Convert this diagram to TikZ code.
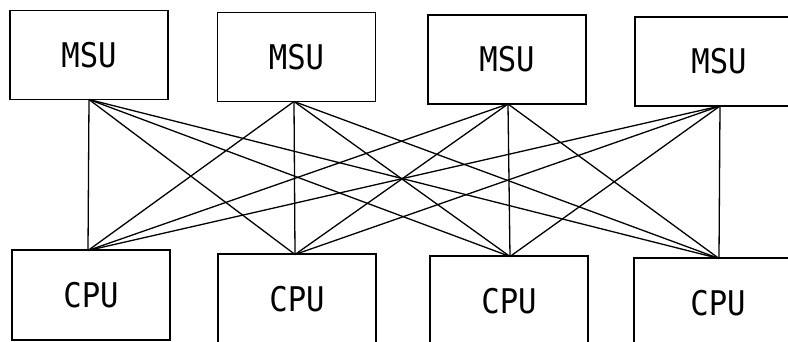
\documentclass[tikz,border=0pt]{standalone}
\usepackage{fontspec}
\newfontfamily\boxfont[FakeStretch=0.9]{DejaVu Sans Mono}
\begin{document}
\begin{tikzpicture}[x=1pt,y=-1pt,
  unit/.style={draw,line width=1.5pt,minimum width=158pt,minimum height=89pt,inner sep=0pt,
    font=\boxfont\fontsize{34}{34}\selectfont},
  link/.style={line width=1.3pt}]
\useasboundingbox (0,0) rectangle (788,342);
\clip (0,0) rectangle (788,342);
\node[unit] (M1) at (89,55) {MSU};
\node[unit] (M2) at (296.5,57) {MSU};
\node[unit] (M3) at (507,59.5) {MSU};
\node[unit] (M4) at (714,61.5) {\hspace{10pt}MSU};
\node[unit,minimum height=90pt] (C1) at (91,295) {CPU};
\node[unit,minimum height=90pt] (C2) at (297,299) {CPU};
\node[unit,minimum height=90pt] (C3) at (509,301) {CPU};
\node[unit,minimum height=90pt] (C4) at (713,303) {\hspace{10pt}CPU};
\coordinate (m1) at (89,99.5);
\coordinate (m2) at (294,101.5);
\coordinate (m3) at (508,104);
\coordinate (m4) at (720,106);
\coordinate (c1) at (88,250.5);
\coordinate (c2) at (295,254.5);
\coordinate (c3) at (510,256.5);
\coordinate (c4) at (719,258.5);
\foreach \a in {m1,m2,m3,m4}
  \foreach \b in {c1,c2,c3,c4}
    \draw[link] (\a) -- (\b);
\end{tikzpicture}
\end{document}
